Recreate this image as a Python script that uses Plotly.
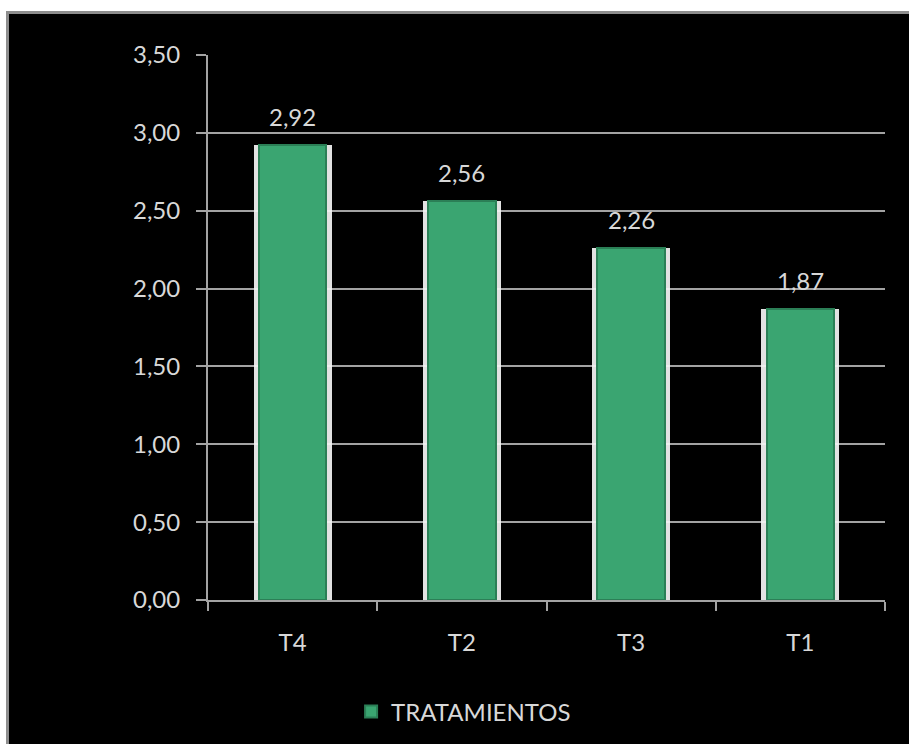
import plotly.graph_objects as go

# Treatment means
categorias = ["T4", "T2", "T3", "T1"]
valores = [2.92, 2.56, 2.26, 1.87]
serie = "TRATAMIENTOS"

y_ticks = [0, 0.5, 1.0, 1.5, 2.0, 2.5, 3.0, 3.5]

W, H = 909, 744
ML, MR, MT, MB = 208, 24, 55, 144
PW, PH = W - ML - MR, H - MT - MB

TXT = "#d8d8d8"
GRID = "#a3a3a3"
FONT = "Lato, 'Open Sans', sans-serif"
FS = 24

fig = go.Figure()

# soft white halo behind each column
fig.add_trace(go.Bar(
    x=categorias, y=valores, width=0.46,
    marker=dict(color="rgba(245,245,245,0.92)", line=dict(width=0)),
    showlegend=False, hoverinfo="skip",
))

# main columns
fig.add_trace(go.Bar(
    x=categorias, y=valores, width=0.40, name=serie,
    marker=dict(color="#3aa571", line=dict(color="#2b7f56", width=2)),
))

# value labels above the columns
for c, v in zip(categorias, valores):
    fig.add_annotation(
        x=c, y=v, text=f"{v:.2f}".replace(".", ","),
        showarrow=False, yanchor="bottom", yshift=12,
        font=dict(family=FONT, size=FS, color=TXT),
    )

# chart frame: black area with a grey border on the top and left edges
fig.add_shape(
    type="rect", xref="paper", yref="paper", layer="below",
    x0=(7.5 - ML) / PW, x1=1.2,
    y0=-0.4, y1=1 + (MT - 12.5) / PH,
    fillcolor="black", line=dict(color="#8e8e8e", width=3),
)

fig.update_layout(
    width=W, height=H,
    margin=dict(l=ML, r=MR, t=MT, b=MB),
    paper_bgcolor="white", plot_bgcolor="rgba(0,0,0,0)",
    barmode="overlay",
    separators=",.",
    font=dict(family=FONT, size=FS, color=TXT),
    showlegend=True,
    legend=dict(
        orientation="h", xref="container", yref="container",
        x=0.51, xanchor="center", y=1 - 712 / H, yanchor="middle",
        font=dict(family=FONT, size=FS, color=TXT),
        bgcolor="rgba(0,0,0,0)", itemwidth=30,
    ),
    bargap=0,
)

fig.update_xaxes(
    showline=True, linecolor=GRID, linewidth=2,
    ticks="outside", tickson="boundaries", ticklen=9, tickwidth=2, tickcolor=GRID,
    ticklabelstandoff=20, showgrid=False,
    tickfont=dict(family=FONT, size=FS, color=TXT),
)

fig.update_yaxes(
    range=[0, 3.5], tickvals=y_ticks, tickformat=".2f",
    showline=True, linecolor=GRID, linewidth=2,
    showgrid=True, gridcolor=GRID, gridwidth=2,
    zeroline=False,
    ticks="outside", ticklen=10, tickwidth=2, tickcolor=GRID,
    ticklabelstandoff=11,
    tickfont=dict(family=FONT, size=FS, color=TXT),
)

fig.write_html("out.html")
